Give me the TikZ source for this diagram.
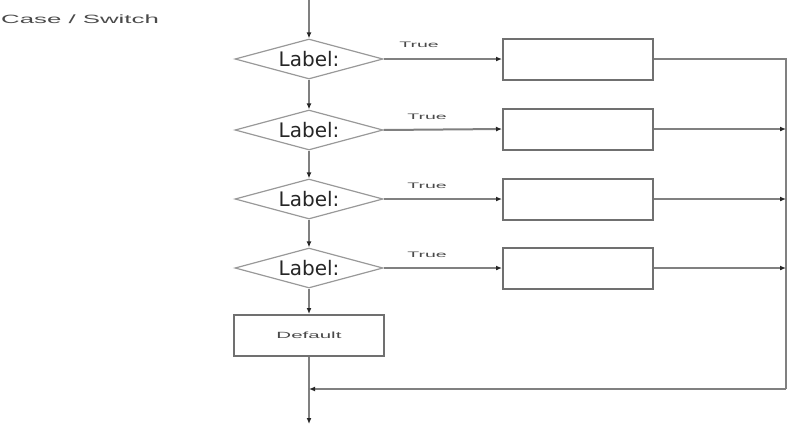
\documentclass[tikz,border=0pt]{standalone}
\usepackage{fontspec}
\setmainfont{Liberation Sans}
\newfontfamily\dejavu{DejaVu Sans}
\usetikzlibrary{shapes.geometric,arrows.meta}
\definecolor{linegray}{HTML}{808080}
\definecolor{boxgray}{HTML}{707070}
\definecolor{diagray}{HTML}{999999}
\definecolor{txtgray}{HTML}{4A4A4A}
\begin{document}
\begin{tikzpicture}[x=1pt,y=-1pt,
  flow/.style={draw=linegray,line width=2pt},
  arr/.style={flow,-{Latex[length=6pt,width=5pt,color=black!85]}},
  decision/.style={diamond,draw=diagray,line width=1.2pt,minimum width=148pt,minimum height=40pt,inner sep=0pt},
  lbl/.style={fill=white,inner sep=0.5pt,text=black!85,font=\dejavu\fontsize{20}{22}\selectfont},
  actbox/.style={rectangle,draw=boxgray,line width=2pt,minimum width=150pt,minimum height=41pt,inner sep=0pt},
  truetxt/.style={text=txtgray,inner sep=0pt,font=\fontsize{8}{9}\selectfont}
]
\useasboundingbox (0,0) rectangle (793,426);
\node[anchor=west,text=txtgray,inner sep=0pt] (title) at (1,19) {\scalebox{2.15}[1]{\fontsize{12}{14}\selectfont Case / Switch}};

\coordinate (top) at (309,0);
\foreach \i/\y in {1/59,2/130,3/199,4/268}{
  \node[decision] (d\i) at (309,\y) {};
  \node[lbl] (l\i) at (309,\y) {Label:};
}
\node[actbox] (r1) at (578,59) {};
\node[actbox] (r2) at (578,129) {};
\node[actbox] (r3) at (578,199) {};
\node[actbox] (r4) at (578,268) {};
\node[actbox] (def) at (309,335.5) {\scalebox{2.28}[1]{\color{txtgray}\fontsize{9}{10}\selectfont Default}};

\coordinate (c1) at (786,59);
\coordinate (c2) at (786,129);
\coordinate (c3) at (786,199);
\coordinate (c4) at (786,268);
\coordinate (cb) at (786,389);
\coordinate (j) at (309,389);
\coordinate (bot) at (309,424);

\draw[arr] (top) -- (d1.north);
\draw[arr] (d1.south) -- (d2.north);
\draw[arr] (d2.south) -- (d3.north);
\draw[arr] (d3.south) -- (d4.north);
\draw[arr] (d4.south) -- (def.north);
\draw[arr] (def.south) -- (bot);

\draw[arr] (d1.east) -- (r1.west);
\draw[arr] (d2.east) -- (r2.west);
\draw[arr] (d3.east) -- (r3.west);
\draw[arr] (d4.east) -- (r4.west);

\node[truetxt] (t1) at (419,45) {\scalebox{2.44}[1]{True}};
\node[truetxt] (t2) at (427,117) {\scalebox{2.44}[1]{True}};
\node[truetxt] (t3) at (427,186) {\scalebox{2.44}[1]{True}};
\node[truetxt] (t4) at (427,255) {\scalebox{2.44}[1]{True}};

\draw[flow] (r1.east) -- (c1) -- (cb);
\draw[arr] (r2.east) -- (c2);
\draw[arr] (r3.east) -- (c3);
\draw[arr] (r4.east) -- (c4);
\draw[arr] (cb) -- (j);
\end{tikzpicture}
\end{document}
